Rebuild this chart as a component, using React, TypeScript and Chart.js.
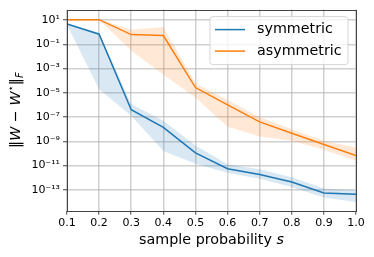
import React, { useEffect, useRef } from "react";
import { Chart, registerables } from "chart.js";

Chart.register(...registerables);

const sampleProb = [0.1, 0.2, 0.3, 0.4, 0.5, 0.6, 0.7, 0.8, 0.9, 1.0];

const symMean = [4.7, 0.68, 4e-7, 1.4e-8, 1.1e-10, 5.5e-12, 1.8e-12, 4.4e-13, 5.5e-14, 4.3e-14];
const symUpper = [5.5, 0.9, 1.2e-6, 5e-8, 4.5e-10, 1.3e-11, 5e-12, 1.1e-12, 1.3e-13, 9e-14];
const symLower = [4.0, 2e-5, 1.3e-7, 1.6e-10, 1.4e-11, 2.5e-12, 8e-13, 1.7e-13, 2.3e-14, 1e-14];

const asymMean = [10.7, 10.7, 0.63, 0.52, 2.7e-5, 1e-6, 4e-8, 4.6e-9, 5.4e-10, 6.8e-11];
const asymUpper = [11.5, 11.5, 1.6, 2.7, 6e-5, 2.5e-6, 1e-7, 1e-8, 1.1e-9, 2.9e-10];
const asymLower = [10, 10, 0.03, 3e-4, 4e-6, 1.6e-8, 2.5e-9, 1.1e-9, 2e-10, 2.5e-11];

const yTickExponents = [-13, -11, -9, -7, -5, -3, -1, 1];
const xTicks = [0.1, 0.2, 0.3, 0.4, 0.5, 0.6, 0.7, 0.8, 0.9, 1.0];
const seriesNames = ["symmetric", "asymmetric"];

const BLUE = "#1f77b4";
const ORANGE = "#ff7f0e";
const FONT = "'DejaVu Sans', sans-serif";
const GRID = "rgba(176,176,176,0.6)";

const supMap: Record<string, string> = {
  "-": "\u207B", "0": "\u2070", "1": "\u00B9", "2": "\u00B2", "3": "\u00B3",
  "4": "\u2074", "5": "\u2075", "6": "\u2076", "7": "\u2077", "8": "\u2078", "9": "\u2079",
};
const sup = (n: number) => String(n).split("").map((c) => supMap[c]).join("");

const decorPlugin = {
  id: "decor",
  afterDraw(chart: any) {
    const ctx = chart.ctx as CanvasRenderingContext2D;
    const a = chart.chartArea;
    ctx.save();
    // frame
    ctx.strokeStyle = "#444";
    ctx.lineWidth = 1;
    ctx.strokeRect(Math.round(a.left) + 0.5, Math.round(a.top) + 0.5, Math.round(a.right - a.left), Math.round(a.bottom - a.top));

    // x title
    ctx.fillStyle = "#000";
    ctx.textBaseline = "alphabetic";
    const f1 = `14.3px ${FONT}`;
    const f1i = `italic 14.3px ${FONT}`;
    ctx.font = f1;
    const t1 = "sample probability ";
    const w1 = ctx.measureText(t1).width;
    ctx.font = f1i;
    const w2 = ctx.measureText("s").width;
    const cx = (a.left + a.right) / 2;
    const xs = cx - (w1 + w2) / 2;
    const ty = a.bottom + 33;
    ctx.font = f1;
    ctx.textAlign = "left";
    ctx.fillText(t1, xs, ty);
    ctx.font = f1i;
    ctx.fillText("s", xs + w1, ty);

    // y title
    const pieces: [string, string, number][] = [
      ["\u2016", f1, 0],
      ["W", f1i, 0],
      [" \u2212 ", f1, 0],
      ["W", f1i, 0],
      ["\u22C6", `10px ${FONT}`, -6],
      ["\u2016", f1, 0],
      ["F", `italic 10px ${FONT}`, 3],
    ];
    let total = 0;
    const widths = pieces.map(([t, f]) => {
      ctx.font = f;
      const w = ctx.measureText(t).width;
      total += w;
      return w;
    });
    ctx.save();
    ctx.translate(20, (a.top + a.bottom) / 2);
    ctx.rotate(-Math.PI / 2);
    let px = -total / 2;
    pieces.forEach(([t, f, dy], i) => {
      ctx.font = f;
      ctx.fillText(t, px, dy);
      px += widths[i];
    });
    ctx.restore();

    // legend
    const lw = 138, lh = 48;
    const lx = a.right - 8 - lw;
    const ly = a.top + 7;
    ctx.beginPath();
    const r = 3;
    ctx.moveTo(lx + r, ly);
    ctx.lineTo(lx + lw - r, ly);
    ctx.quadraticCurveTo(lx + lw, ly, lx + lw, ly + r);
    ctx.lineTo(lx + lw, ly + lh - r);
    ctx.quadraticCurveTo(lx + lw, ly + lh, lx + lw - r, ly + lh);
    ctx.lineTo(lx + r, ly + lh);
    ctx.quadraticCurveTo(lx, ly + lh, lx, ly + lh - r);
    ctx.lineTo(lx, ly + r);
    ctx.quadraticCurveTo(lx, ly, lx + r, ly);
    ctx.closePath();
    ctx.fillStyle = "rgba(255,255,255,0.8)";
    ctx.fill();
    ctx.strokeStyle = "rgba(204,204,204,0.8)";
    ctx.lineWidth = 1;
    ctx.stroke();
    const colors = [BLUE, ORANGE];
    seriesNames.forEach((name, i) => {
      const yy = ly + 13 + i * 21.5;
      ctx.strokeStyle = colors[i];
      ctx.lineWidth = 1.5;
      ctx.beginPath();
      ctx.moveTo(lx + 5, yy);
      ctx.lineTo(lx + 35, yy);
      ctx.stroke();
      ctx.fillStyle = "#000";
      ctx.font = `14.3px ${FONT}`;
      ctx.textBaseline = "middle";
      ctx.fillText(name, lx + 47, yy);
    });
    ctx.restore();
  },
};

export default function App() {
  const ref = useRef<HTMLCanvasElement>(null);
  useEffect(() => {
    if (!ref.current) return;
    const toPts = (arr: number[]) => arr.map((v, i) => ({ x: sampleProb[i], y: v }));
    const band = (c: string) => ({ borderWidth: 0, pointRadius: 0, backgroundColor: c, borderColor: "transparent" });
    const chart = new Chart(ref.current, {
      type: "line",
      data: {
        datasets: [
          { label: "symU", data: toPts(symUpper), fill: false, ...band("rgba(31,119,180,0.17)") },
          { label: "symL", data: toPts(symLower), fill: "-1", ...band("rgba(31,119,180,0.17)") },
          { label: "asymU", data: toPts(asymUpper), fill: false, ...band("rgba(255,127,14,0.17)") },
          { label: "asymL", data: toPts(asymLower), fill: "-1", ...band("rgba(255,127,14,0.17)") },
          { label: seriesNames[0], data: toPts(symMean), borderColor: BLUE, borderWidth: 1.5, pointRadius: 0, fill: false },
          { label: seriesNames[1], data: toPts(asymMean), borderColor: ORANGE, borderWidth: 1.5, pointRadius: 0, fill: false },
        ],
      },
      options: {
        animation: false,
        responsive: true,
        maintainAspectRatio: false,
        layout: { padding: { left: 0, right: 18, top: 8, bottom: 0 } },
        plugins: { legend: { display: false }, tooltip: { enabled: false } },
        elements: { line: { tension: 0 } },
        scales: {
          x: {
            type: "linear",
            min: 0.1,
            max: 1.0,
            afterBuildTicks: (s: any) => { s.ticks = xTicks.map((v) => ({ value: v })); },
            afterFit: (s: any) => { s.height = 46.3; },
            ticks: {
              callback: (v: any) => Number(v).toFixed(1),
              color: "#000",
              font: { family: FONT, size: 11 },
              padding: 2,
              maxRotation: 0,
              autoSkip: false,
            },
            grid: { color: GRID, lineWidth: 1.5, tickColor: "#444", tickLength: 4, tickWidth: 1 },
            border: { display: false },
          },
          y: {
            type: "logarithmic",
            min: 1.9e-15,
            max: 72,
            afterBuildTicks: (s: any) => { s.ticks = yTickExponents.map((e) => ({ value: Math.pow(10, e) })); },
            afterFit: (s: any) => { s.width = 67; },
            ticks: {
              callback: (v: any) => "10" + sup(Math.round(Math.log10(Number(v)))),
              color: "#000",
              font: { family: FONT, size: 11 },
              padding: 3,
              autoSkip: false,
            },
            grid: { color: GRID, lineWidth: 1.5, tickColor: "#444", tickLength: 4, tickWidth: 1 },
            border: { display: false },
          },
        },
      },
      plugins: [decorPlugin],
    } as any);
    return () => chart.destroy();
  }, []);
  return (
    <div style={{ position: "fixed", left: 0, top: 0, width: 374, height: 257, background: "#fff" }}>
      <canvas ref={ref} />
    </div>
  );
}
